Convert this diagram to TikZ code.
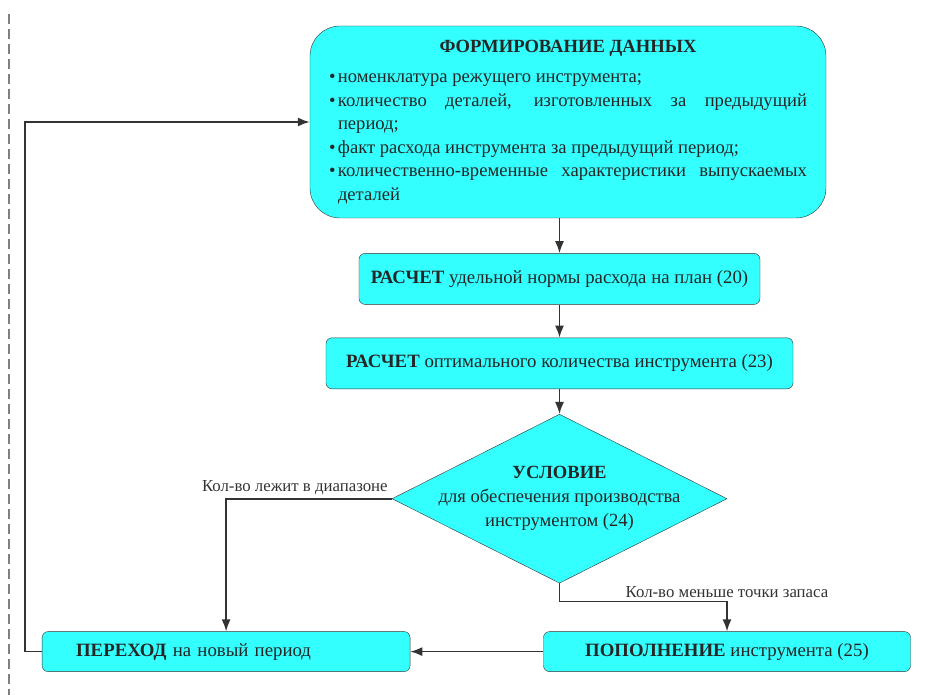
\documentclass[tikz,border=0pt]{standalone}
\usepackage{fontspec}
\setmainfont{Liberation Serif}
\usetikzlibrary{shapes.geometric, arrows.meta}
\usetikzlibrary{positioning}
\definecolor{boxcyan}{HTML}{33FFFF}
\definecolor{linegray}{HTML}{333333}
\newcommand{\itm}{\hangindent=9pt\hangafter=1\noindent\makebox[9pt][l]{\textbullet}}
\tikzstyle{startstop} = [rectangle, rounded corners=30pt, minimum width=516pt, minimum height=192pt, text width=478pt, align=justify, draw=linegray, fill=boxcyan, text=black!85, font=\fontsize{18.6}{23.5}\selectfont]
\tikzstyle{process} = [rectangle, rounded corners=6pt, minimum height=51pt, text centered, draw=linegray, fill=boxcyan, text=black!85, font=\fontsize{18.8}{22}\selectfont]
\tikzstyle{decision} = [diamond, minimum width=335pt, minimum height=169pt, inner sep=0pt, draw=linegray, fill=boxcyan]
\tikzstyle{arrow} = [line width=1.6pt, draw=linegray, ->, >={Latex[length=12pt,width=9pt]}]
\tikzstyle{branch} = [font=\fontsize{16.8}{19}\selectfont, text=linegray]

\begin{document}
\begin{tikzpicture}[x=1pt, y=-1pt]
\useasboundingbox (0,0) rectangle (951,695);

% page margin
\draw [gray, line width=1.3pt, dash pattern=on 10pt off 5pt] (9,14) -- (9,695);

% Data collection
\node (formdata) [startstop] at (568,122) {{\centering\bfseries ФОРМИРОВАНИЕ ДАННЫХ\par}\vspace{7pt}
\itm номенклатура режущего инструмента;\par
\itm количество деталей, изготовленных за предыдущий\linebreak период;\par
\itm факт расхода инструмента за предыдущий период;\par
\itm количественно-временные характеристики выпускаемых\linebreak деталей\par};

% Specific norm
\node (normcalc) [process, minimum width=401pt, below=35pt of formdata, xshift=-8.5pt] {\textbf{РАСЧЕТ} удельной нормы расхода на план (20)};

% Optimal amount
\node (optcalc) [process, minimum width=467pt, below=33pt of normcalc] {\textbf{РАСЧЕТ} оптимального количества инструмента (23)};

% Condition
\node (cond) [decision, below=25pt of optcalc] {};
\node (condtext) [align=center, text=black!85, font=\fontsize{18.6}{24}\selectfont] at (cond) {\textbf{УСЛОВИЕ}\\для обеспечения производства\\инструментом (24)};

% Replenish
\node (replenish) [process, minimum width=367pt, minimum height=40pt, below=48pt of cond, xshift=167.5pt] {\textbf{ПОПОЛНЕНИЕ} инструмента (25)};

% New period
\node (newperiod) [process, minimum width=368pt, minimum height=40pt, text width=300pt, align=left, left=133pt of replenish] {\textbf{ПЕРЕХОД} на новый период};

% Arrows
\draw [arrow] (formdata.south -| normcalc) -- (normcalc);
\draw [arrow] (normcalc) -- (optcalc);
\draw [arrow] (optcalc) -- (cond);
\draw [arrow] (cond.west) -| node[branch, pos=0, anchor=south east] {Кол-во лежит в диапазоне} (newperiod.north);
\draw [arrow] (cond.south) -- ++(0,18) -| node[branch, pos=0.5, anchor=south] {Кол-во меньше точки запаса} (replenish.north);
\draw [arrow] (replenish) -- (newperiod);
\draw [arrow] (newperiod.west) -- ++(-17,0) |- (formdata.west);

\end{tikzpicture}
\end{document}
